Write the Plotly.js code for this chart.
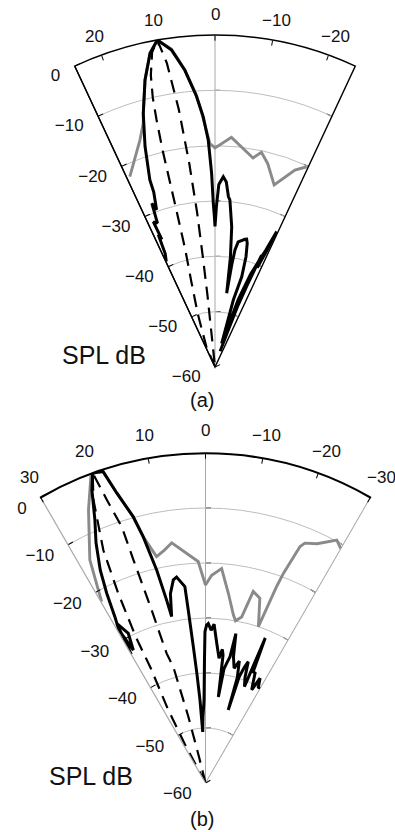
<!DOCTYPE html>
<html><head><meta charset="utf-8">
<script src="https://cdn.plot.ly/plotly-3.0.1.min.js"></script>
<style>html,body{margin:0;padding:0;background:#fff}#chart{width:395px;height:832px}</style>
</head><body><div id="chart"></div>
<script>
// ---------- Panel (a) ----------
const aAngleTickVals = [20, 10, 0, -10, -20];
const aAngleTickText = ['20', '10', '0', '\u221210', '\u221220'];
const aRadialTickVals = [0, -10, -20, -30, -40, -50, -60];
const aRadialTickText = ['0', '\u221210', '\u221220', '\u221230', '\u221240', '\u221250', '\u221260'];
const aGrayTheta = [24.1, 18.3, 16.4, 15.8, 13.7, 11.7, 10.0, 7.8, 5.9, 4.0, 3.0, 1.3, 0.0, -4.1, -10.3, -12.2, -14.5, -18.0, -22.1, -24.6];
const aGrayR     = [-22.3, -16.8, -14.1, -12.4, -6.6, -2.1, 0, -2.0, -5.8, -10.5, -14.0, -19.6, -20.4, -18.4, -21.6, -20.3, -22.0, -25.4, -21.6, -20.2];
const aDashTheta = [25, 23, 18, 15.5, 14.2, 13.8, 13.6, 13.3, 13.0, 12.4, 11.3, 10.0, 9.0, 8.0, 7.2, 6.6, 6.3, 6.0, 6.0, 6.0];
const aDashR     = [-60, -56, -50, -44, -38, -30, -20, -14, -10, -6, -2, 0, -4.4, -13, -23, -32, -40, -47, -55, -60];
const aBlackTheta = [24.8, 23.7, 23.2, 22.6, 23.0, 21.8, 21.1, 20.4, 19.3, 19.2, 17.6, 15.8, 13.7, 11.7, 10.0, 7.8, 5.8, 3.9, 2.7, 1.7, 1.0, 0.6, 0.2, 0.0, -0.5, -1.2, -2.5, -3.5, -4.5, -5.1, -6.8, -8.0, -9.0, -9.3, -9.7, -10.5, -13.2, -13.9, -14.6, -15.7, -16.5, -15.3, -15.8, -19.0, -21.0, -22.4, -23.5, -24.5, -24.0, -23.0, -22.6, -21.5, -20.5, -19.8, -18.0];
const aBlackR     = [-39, -37.6, -34, -35, -31.5, -32, -28.3, -29.7, -26.5, -24.2, -18.2, -12.4, -6.6, -2.1, 0, -2.2, -6.1, -11, -14.7, -19, -25, -30.4, -33, -34.6, -31, -27, -25.6, -26.5, -29.1, -29.7, -34.5, -40, -46.5, -41.3, -38.5, -37.0, -36.3, -36.2, -36.9, -39.3, -43.0, -47.4, -55.6, -47, -42, -39.4, -37, -33.1, -37, -40.5, -38.1, -44, -48, -52.9, -57];

// ---------- Panel (b) ----------
const bAngleTickVals = [30, 20, 10, 0, -10, -20, -30];
const bAngleTickText = ['30', '20', '10', '0', '\u221210', '\u221220', '\u221230'];
const bRadialTickVals = [0, -10, -20, -30, -40, -50, -60];
const bRadialTickText = ['0', '\u221210', '\u221220', '\u221230', '\u221240', '\u221250', '\u221260'];
const bGrayTheta = [29.8, 27.4, 23.2, 20.5, 19.4, 18.2, 17.0, 15.2, 14.2, 12.2, 10.0, 8.0, 1.9, 0.0, -1.7, -4.3, -6.9, -9.4, -10.5, -12.3, -14.0, -16.4, -18.7, -19.9, -20.4, -21.8, -22.5, -25.0, -28.4, -30.0];
const bGrayR     = [-22.0, -14.3, -6.0, -0.5, 0, -0.4, -4.9, -9.8, -13.8, -17.9, -17.0, -15.9, -19.7, -24.0, -22.2, -20.9, -25.3, -29.0, -30.0, -29.1, -24.1, -25.0, -30.0, -22.0, -19.3, -13.7, -12.8, -12.0, -9.8, -10.8];
const bDashTheta = [30, 28, 27, 25.5, 25.5, 24.7, 23.7, 21.6, 20.0, 19.2, 18.1, 17.9, 17.3, 16.7, 15.5, 14.5, 14.0, 14.0];
const bDashR     = [-60, -52, -45, -37, -30.7, -22, -13.8, -4.7, 0, -5.5, -11, -17.4, -27.1, -35.4, -38.1, -47.5, -55, -60];
const bBlackTheta = [30, 29.1, 27.3, 28.5, 29.5, 28.6, 27.5, 26.3, 24.5, 22.8, 21.2, 20.0, 18.2, 17.0, 15.2, 14.2, 12.9, 12.0, 11.5, 10.5, 9.0, 8.0, 6.0, 5.7, 5.1, 4.5, 3.8, 3.1, 2.2, 1.0, 0.5, 0.2, -0.4, -1.0, -2.1, -3.1, -4.6, -6.2, -7.2, -7.8, -8.5, -9.2, -10.0, -11.0, -11.5, -12.5, -14.0, -15.5, -16.8, -17.3, -17.6, -18.5, -19.4, -20.5, -22.0, -22.4, -23.2, -24.3, -25.5, -26.4, -27.5, -29.1, -29.5];
const bBlackR     = [-33, -26.8, -29.4, -32.5, -28, -25.6, -21.1, -16.8, -12, -8.1, -2.9, 0, -0.4, -4.9, -9.8, -13.8, -20.3, -26.0, -29.1, -25, -22.6, -22.2, -24.1, -28.4, -35.1, -40, -44.9, -50.7, -48, -44.9, -38, -32.5, -31.3, -31.0, -32.2, -31.1, -34.5, -37.2, -35.5, -36.5, -44.2, -39, -37.9, -36.6, -32.3, -36.5, -38.5, -37, -40, -46.1, -39.8, -37.9, -36.6, -39.5, -41.1, -31.5, -38, -38.1, -40, -41.1, -38.5, -40.3, -39.9];

// ---------- styling / geometry ----------
const W = 395, H = 832;
const FONT = 'Liberation Sans, Arial, Helvetica, sans-serif';
const GRAY = '#8a8a8a';
const GRID = '#bdbdbd';
const EDGE_GRAY = '#a8a8a8';
const DASH = '13px,8px';
// panel geometry in pixels: pole position, rim radius, half-opening angle, label offset
const geomA = {px: 215, py: 367, R: 332, half: 25, labelOff: 20};
const geomB = {px: 205.5, py: 783, R: 330, half: 30, labelOff: 22.5};

function domainOf(g) {
  const s = Math.sin(g.half * Math.PI / 180);
  return {x: [(g.px - g.R * s) / W, (g.px + g.R * s) / W], y: [1 - g.py / H, 1 - (g.py - g.R) / H]};
}
const domA = domainOf(geomA);
const domB = domainOf(geomB);
const innerTicks = [-10, -20, -30, -40, -50];

function lineTrace(theta, r, color, width, dash, subplot) {
  return {type: 'scatterpolar', mode: 'lines', theta: theta, r: r, subplot: subplot,
    line: {color: color, width: width, dash: dash || 'solid'}, hoverinfo: 'skip', showlegend: false};
}
function emptyTrace(subplot) {
  return {type: 'scatterpolar', mode: 'lines', theta: [], r: [], subplot: subplot, showlegend: false, hoverinfo: 'skip'};
}

const data = [
  emptyTrace('polar'), emptyTrace('polar2'),
  lineTrace(aGrayTheta, aGrayR, GRAY, 2.9, null, 'polar3'),
  lineTrace(aDashTheta, aDashR, '#000', 2.2, DASH, 'polar3'),
  lineTrace(aBlackTheta, aBlackR, '#000', 3, null, 'polar3'),
  emptyTrace('polar4'), emptyTrace('polar5'),
  lineTrace(bGrayTheta, bGrayR, GRAY, 2.9, null, 'polar6'),
  lineTrace(bDashTheta, bDashR, '#000', 2.2, DASH, 'polar6'),
  lineTrace(bBlackTheta, bBlackR, '#000', 3, null, 'polar6'),
  emptyTrace('polar7')
];

// overlay: extra radial axis line + ticks (centre line / right edge)
function overlay(dom, half, angle, side, lineOn, lineColor) {
  return {
    domain: dom, sector: [90 - half, 90 + half], bgcolor: 'rgba(0,0,0,0)',
    angularaxis: {visible: false, rotation: 90, direction: 'counterclockwise'},
    radialaxis: {range: [-60, 0], angle: angle, side: side, showline: lineOn, linecolor: lineColor, linewidth: 1,
      tickvals: innerTicks, ticks: 'outside', ticklen: 5, tickcolor: '#000', showticklabels: false, showgrid: false}
  };
}
function mainPolar(dom, half, angVals, radVals, radText, frameOn, radLineColor) {
  return {
    domain: dom, sector: [90 - half, 90 + half], bgcolor: 'rgba(0,0,0,0)',
    angularaxis: {rotation: 90, direction: 'counterclockwise', tickvals: angVals, showticklabels: false,
      ticks: frameOn ? 'inside' : '', ticklen: 5, tickcolor: '#000', showline: frameOn, linecolor: '#000', linewidth: 1.4,
      showgrid: false},
    radialaxis: {range: [-60, 0], angle: 90 + half, side: 'counterclockwise', tickangle: 90 + half,
      tickvals: radVals, ticktext: radText, ticks: 'inside', ticklen: 5, tickcolor: '#000',
      showline: true, linecolor: radLineColor, linewidth: 1.2, showgrid: true, gridcolor: GRID, gridwidth: 1,
      tickfont: {family: FONT, size: 17, color: '#111'}}
  };
}
// angular tick labels, centred just outside the rim at each tick angle
function angleLabels(vals, texts, g) {
  return vals.map((v, i) => {
    const t = v * Math.PI / 180, d = g.R + g.labelOff;
    return {text: texts[i], xref: 'paper', yref: 'paper',
      x: (g.px - d * Math.sin(t)) / W, y: 1 - (g.py - d * Math.cos(t)) / H,
      xanchor: 'center', yanchor: 'middle', showarrow: false, font: {family: FONT, size: 17, color: '#111'}};
  });
}

const layout = {
  width: W, height: H, margin: {l: 0, r: 0, t: 0, b: 0},
  paper_bgcolor: '#fff', showlegend: false,
  font: {family: FONT, size: 17, color: '#111'},
  polar:  overlay(domA, 25, 90, 'clockwise', true, EDGE_GRAY),
  polar2: overlay(domA, 25, 65, 'counterclockwise', false, '#000'),
  polar3: mainPolar(domA, 25, aAngleTickVals, aRadialTickVals, aRadialTickText, true, '#000'),
  polar4: overlay(domB, 30, 90, 'clockwise', true, EDGE_GRAY),
  polar5: overlay(domB, 30, 60, 'counterclockwise', true, EDGE_GRAY),
  polar6: mainPolar(domB, 30, bAngleTickVals, bRadialTickVals, bRadialTickText, false, EDGE_GRAY),
  // thin annulus at the rim: black outer arc and its inner ticks for panel (b)
  polar7: {
    domain: domB, sector: [60, 120], hole: 0.998, bgcolor: 'rgba(0,0,0,0)',
    angularaxis: {rotation: 90, direction: 'counterclockwise', showline: true, linecolor: '#000', linewidth: 1.4,
      showgrid: false, showticklabels: false, tickvals: bAngleTickVals, ticks: 'inside', ticklen: 5, tickcolor: '#000'},
    radialaxis: {visible: false, range: [-60, 0]}
  },
  annotations: [
    ...angleLabels(aAngleTickVals, aAngleTickText, geomA),
    ...angleLabels(bAngleTickVals, bAngleTickText, geomB),
    {text: 'SPL dB', xref: 'paper', yref: 'paper', x: 103.5 / W, y: 1 - 355 / H, xanchor: 'center', yanchor: 'middle', showarrow: false, font: {family: FONT, size: 25, color: '#111'}},
    {text: '(a)', xref: 'paper', yref: 'paper', x: 202.5 / W, y: 1 - 400 / H, xanchor: 'center', yanchor: 'middle', showarrow: false, font: {family: FONT, size: 20, color: '#111'}},
    {text: 'SPL dB', xref: 'paper', yref: 'paper', x: 91 / W, y: 1 - 776 / H, xanchor: 'center', yanchor: 'middle', showarrow: false, font: {family: FONT, size: 25, color: '#111'}},
    {text: '(b)', xref: 'paper', yref: 'paper', x: 202.5 / W, y: 1 - 819 / H, xanchor: 'center', yanchor: 'middle', showarrow: false, font: {family: FONT, size: 20, color: '#111'}}
  ]
};

Plotly.newPlot('chart', data, layout, {staticPlot: true, displayModeBar: false});
</script>
</body></html>
